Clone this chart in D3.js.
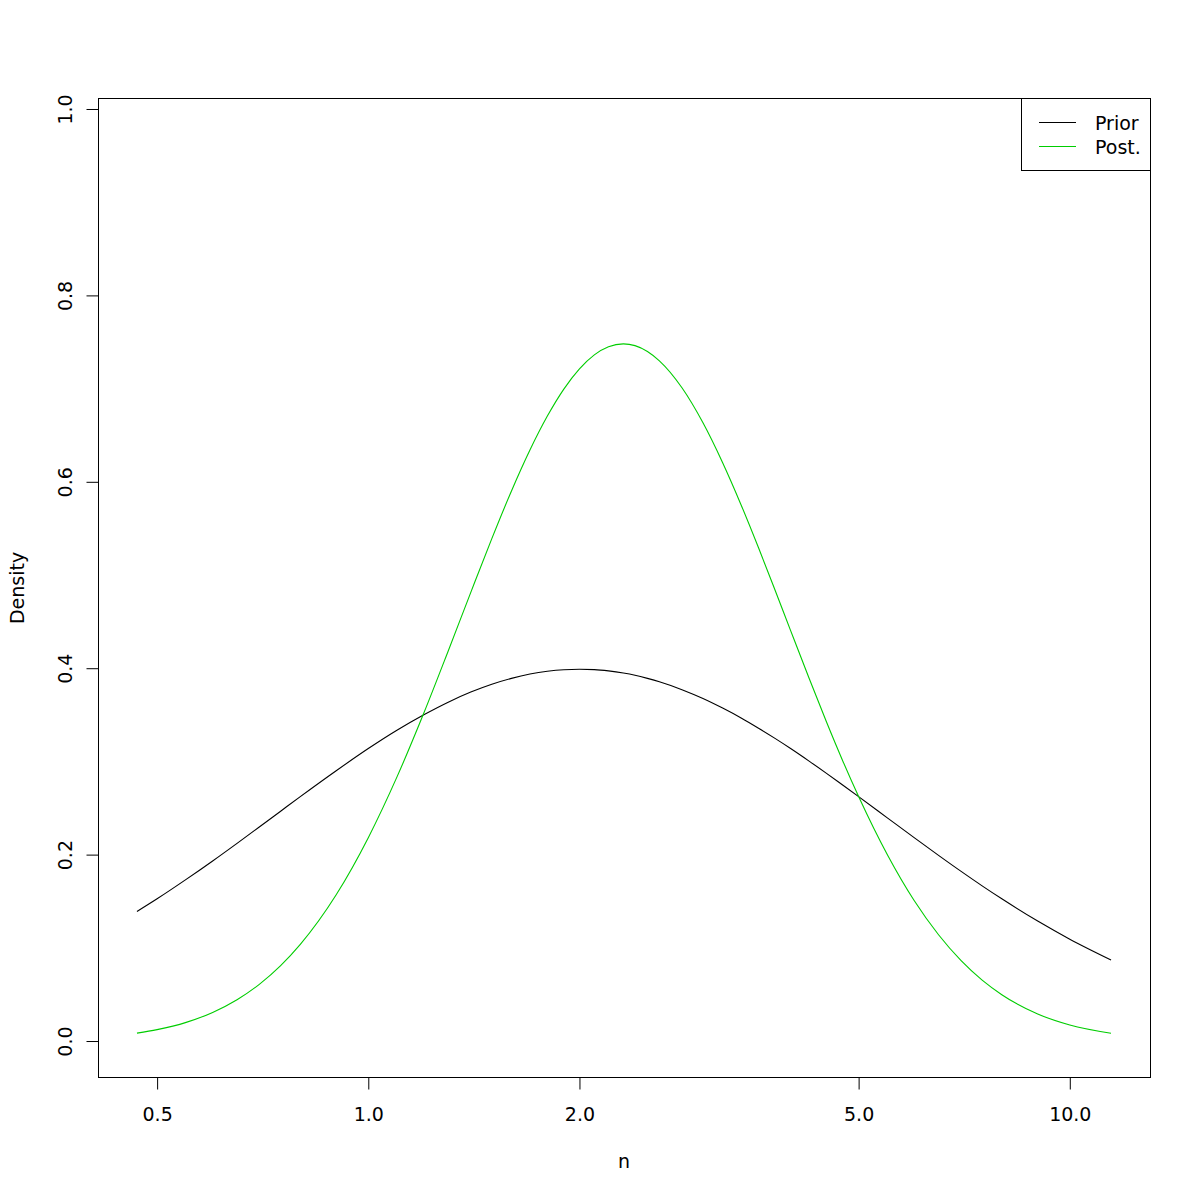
<!DOCTYPE html>
<html><head><meta charset="utf-8">
<script src="https://cdn.jsdelivr.net/npm/d3@7"></script>
<style>body{margin:0;background:#fff}svg{display:block}text{font-family:"DejaVu Sans",sans-serif;fill:#000}</style>
</head><body>
<script>
const nValues = [0.468,0.5,0.55,0.6,0.65,0.7,0.75,0.8,0.9,1.0,1.1,1.2,1.3,1.4,1.5,1.6,1.7,1.8,1.9,2.0,2.1,2.2,2.31,2.4,2.5,2.6,2.8,3.0,3.2,3.4,3.6,3.8,4.0,4.25,4.5,4.75,5.0,5.5,6.0,6.5,7.0,7.5,8.0,9.0,10.0,11.45];
const priorValues = [0.1390,0.1526,0.1734,0.1932,0.2121,0.2299,0.2466,0.2622,0.2900,0.3138,0.3337,0.3501,0.3636,0.3744,0.3828,0.3891,0.3937,0.3967,0.3984,0.3989,0.3985,0.3971,0.3948,0.3924,0.3891,0.3855,0.3770,0.3675,0.3572,0.3466,0.3356,0.3247,0.3138,0.3003,0.2872,0.2744,0.2622,0.2392,0.2182,0.1992,0.1820,0.1665,0.1526,0.1287,0.1093,0.0870];
const postValues = [0.0085,0.0122,0.0200,0.0307,0.0443,0.0611,0.0809,0.1037,0.1569,0.2182,0.2842,0.3519,0.4185,0.4814,0.5390,0.5902,0.6341,0.6705,0.6995,0.7212,0.7362,0.7449,0.7480,0.7461,0.7398,0.7298,0.7009,0.6633,0.6205,0.5752,0.5292,0.4839,0.4403,0.3892,0.3423,0.3000,0.2623,0.1993,0.1507,0.1140,0.0862,0.0653,0.0497,0.0290,0.0172,0.0083];
const xTicks = [0.5,1.0,2.0,5.0,10.0];
const yTicks = [0.0,0.2,0.4,0.6,0.8,1.0];
const seriesNames = ["Prior","Post."];
const seriesColors = ["#000000","#00CD00"];

const FS="19px";
const W=1200,H=1200, L=98, R=1150, T=98, B=1077;
const svg=d3.select("body").append("svg").attr("width",W).attr("height",H);
const lx0=Math.log10(d3.min(nValues)), lx1=Math.log10(d3.max(nValues)), ext=(lx1-lx0)*0.04;
const x=d3.scaleLog().domain([Math.pow(10,lx0-ext),Math.pow(10,lx1+ext)]).range([L,R]);
const y=d3.scaleLinear().domain([-0.0386,1.0118]).range([B,T]);

const line=vals=>d3.line().x((d,i)=>x(nValues[i])).y(d=>y(d)).curve(d3.curveMonotoneX)(vals);
[priorValues,postValues].forEach((v,k)=>{
  svg.append("path").attr("d",line(v)).attr("fill","none").attr("stroke",seriesColors[k]).attr("stroke-width",1.1);
});

svg.append("rect").attr("x",L+0.5).attr("y",T+0.5).attr("width",R-L).attr("height",B-T).attr("fill","none").attr("stroke","#000").attr("stroke-width",1);

const xa=svg.append("g").attr("transform",`translate(0,${B+0.5})`)
  .call(d3.axisBottom(x).tickValues(xTicks).tickFormat(d3.format(".1f")).tickSize(12));
xa.select(".domain").attr("d",`M${x(xTicks[0])},0H${x(xTicks[xTicks.length-1])}`);
xa.selectAll(".tick text").attr("y",43.5).attr("dy",0).style("font-size",FS).style("font-family","DejaVu Sans");

const ya=svg.append("g").attr("transform",`translate(${L+0.5},0)`)
  .call(d3.axisLeft(y).tickValues(yTicks).tickFormat(d3.format(".1f")).tickSize(12));
ya.select(".domain").attr("d",`M0,${y(0)}V${y(1)}`);
ya.selectAll(".tick text").attr("transform","rotate(-90)").attr("x",0).attr("y",-26.5).attr("dy",0)
  .attr("text-anchor","middle").style("font-size",FS).style("font-family","DejaVu Sans");

svg.append("text").attr("x",(L+R)/2).attr("y",1168).attr("text-anchor","middle").style("font-size",FS).text("n");
svg.append("text").attr("transform","translate(23.5,588) rotate(-90)").attr("text-anchor","middle").style("font-size",FS).text("Density");

const lg=svg.append("g");
lg.append("rect").attr("x",1021.5).attr("y",T+0.5).attr("width",R-1021).attr("height",72).attr("fill","#fff").attr("stroke","#000");
seriesNames.forEach((s,i)=>{
  const yy=122+i*24;
  lg.append("line").attr("x1",1039).attr("x2",1076).attr("y1",yy+0.5).attr("y2",yy+0.5).attr("stroke",seriesColors[i]).attr("stroke-width",1.1);
  lg.append("text").attr("x",1095).attr("y",yy+8).style("font-size",FS).text(s);
});
</script>
</body></html>
